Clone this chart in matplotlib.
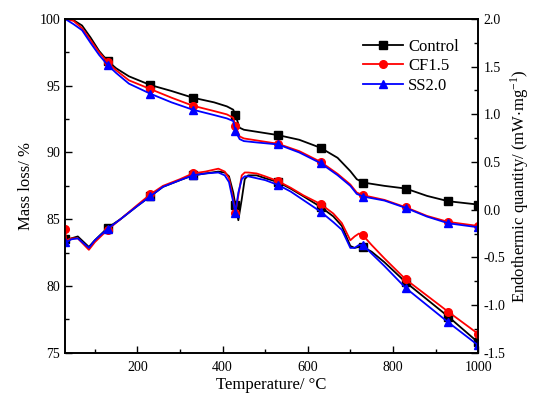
import numpy as np
import matplotlib
matplotlib.use("Agg")
import matplotlib.pyplot as plt
from matplotlib.ticker import MultipleLocator

plt.rcParams['font.family'] = ['Liberation Serif', 'DejaVu Serif']
plt.rcParams['mathtext.fontset'] = 'stix'

# ---- TG data (left axis, Mass loss %) ----
tg_T = [30, 50, 70, 90, 110, 130, 150, 180, 230, 280, 330, 380, 410, 425, 430,
        440, 450, 480, 530, 580, 630, 670, 700, 715, 730, 780, 830, 880, 930, 1000]
tg_control = [100, 99.9, 99.5, 98.6, 97.6, 96.85, 96.3, 95.7, 95.05, 94.6, 94.1, 93.75,
              93.45, 93.2, 92.8, 91.85, 91.7, 91.55, 91.3, 90.95, 90.35, 89.6, 88.6,
              88.0, 87.75, 87.5, 87.3, 86.75, 86.35, 86.1]
tg_cf15 = [100, 99.85, 99.3, 98.4, 97.5, 96.75, 96.15, 95.4, 94.75, 94.1, 93.5, 93.1,
           92.85, 92.6, 92.0, 91.2, 91.05, 90.9, 90.65, 90.1, 89.3, 88.4, 87.6,
           87.0, 86.8, 86.45, 85.9, 85.25, 84.8, 84.5]
tg_ss20 = [100, 99.6, 99.15, 98.2, 97.3, 96.55, 95.95, 95.15, 94.4, 93.75, 93.2, 92.8,
           92.55, 92.35, 91.6, 91.0, 90.85, 90.75, 90.6, 90.0, 89.2, 88.3, 87.5,
           86.9, 86.7, 86.4, 85.85, 85.2, 84.7, 84.4]

# ---- DSC data (right axis, mW/mg) ----
dsc_T = [30, 33, 45, 60, 86, 100, 130, 160, 200, 230, 260, 300, 330, 360, 390, 405,
         415, 425, 430, 437, 445, 452, 460, 480, 500, 530, 560, 590, 630, 660, 680,
         700, 710, 720, 730, 750, 780, 830, 880, 930, 1000]
dsc_control = [-0.31, -0.32, -0.30, -0.28, -0.39, -0.32, -0.19, -0.10, 0.04, 0.14,
               0.24, 0.31, 0.36, 0.38, 0.40, 0.39, 0.35, 0.18, 0.05, -0.11,
               0.11, 0.32, 0.36, 0.36, 0.33, 0.29, 0.22, 0.14, 0.03, -0.07,
               -0.17, -0.38, -0.40, -0.39, -0.39, -0.44, -0.55, -0.76, -0.94, -1.12,
               -1.39]
dsc_cf15 = [-0.20, -0.32, -0.30, -0.30, -0.42, -0.34, -0.21, -0.10, 0.05, 0.16,
            0.25, 0.32, 0.38, 0.40, 0.43, 0.40, 0.33, 0.11, -0.03, 0.15,
            0.36, 0.39, 0.39, 0.38, 0.35, 0.30, 0.23, 0.15, 0.06, -0.04,
            -0.14, -0.32, -0.28, -0.25, -0.27, -0.37, -0.51, -0.73, -0.90, -1.07,
            -1.30]
dsc_ss20 = [-0.34, -0.34, -0.31, -0.30, -0.40, -0.32, -0.20, -0.10, 0.04, 0.14,
            0.24, 0.31, 0.36, 0.38, 0.39, 0.36, 0.29, 0.08, -0.03, 0.18,
            0.32, 0.35, 0.35, 0.33, 0.31, 0.26, 0.19, 0.10, -0.02, -0.13,
            -0.21, -0.40, -0.40, -0.37, -0.37, -0.46, -0.59, -0.82, -1.00, -1.18,
            -1.42]

series_names = ["Control", "CF1.5", "SS2.0"]
colors = ["black", "red", "blue"]
markers = ["s", "o", "^"]

tg_marker_T = [130, 230, 330, 430, 530, 630, 730, 830, 930, 1000]
dsc_marker_T = [30, 130, 230, 330, 430, 530, 630, 730, 830, 930, 1000]

tg_mev = [i for i, t in enumerate(tg_T) if t in tg_marker_T]
dsc_mev = [i for i, t in enumerate(dsc_T) if t in dsc_marker_T]

fig = plt.figure(figsize=(5.33, 4.01), dpi=100)
ax = fig.add_axes([0.122, 0.12, 0.775, 0.833])
ax2 = ax.twinx()

handles = []
for name, c, m, tg in zip(series_names, colors, markers, [tg_control, tg_cf15, tg_ss20]):
    h, = ax.plot(tg_T, tg, color=c, marker=m, markevery=tg_mev, lw=1.3, ms=5.5, label=name)
    handles.append(h)
for c, m, d in zip(colors, markers, [dsc_control, dsc_cf15, dsc_ss20]):
    ax2.plot(dsc_T, d, color=c, marker=m, markevery=dsc_mev, lw=1.3, ms=5.5)

ax.set_xlim(30, 1000)
ax.set_ylim(75, 100)
ax2.set_ylim(-1.5, 2.0)

ax.xaxis.set_major_locator(MultipleLocator(200))
ax.xaxis.set_minor_locator(MultipleLocator(100))
ax.yaxis.set_major_locator(MultipleLocator(5))
ax.yaxis.set_minor_locator(MultipleLocator(2.5))
ax2.yaxis.set_major_locator(MultipleLocator(0.5))
ax2.yaxis.set_minor_locator(MultipleLocator(0.25))
ax2.yaxis.set_major_formatter(matplotlib.ticker.FormatStrFormatter('%.1f'))

ax.tick_params(axis='both', which='both', direction='in', top=False, right=False, labelsize=10)
ax.tick_params(which='major', length=5, width=1)
ax.tick_params(which='minor', length=3, width=1)
ax.tick_params(axis='x', pad=6)
ax2.tick_params(axis='y', which='both', direction='in', labelsize=10, pad=4)
ax2.tick_params(which='major', length=5, width=1)
ax2.tick_params(which='minor', length=3, width=1)

for sp in ax.spines.values():
    sp.set_linewidth(1.2)
for sp in ax2.spines.values():
    sp.set_linewidth(1.2)

ax.set_xlabel("Temperature/ °C", fontsize=12, labelpad=2)
ax.set_ylabel("Mass loss/ %", fontsize=12, labelpad=4)
ax2.set_ylabel(r"Endothermic quantity/ (mW$\cdot$mg$^{\mathregular{-1}}$)", fontsize=12, labelpad=2)

ax2.legend(handles=handles, loc='upper right', bbox_to_anchor=(0.99, 0.985), frameon=False,
           fontsize=12, handlelength=2.4, handletextpad=0.3, labelspacing=0.2, markerscale=1.0)

fig.savefig("out.png", dpi=100)
